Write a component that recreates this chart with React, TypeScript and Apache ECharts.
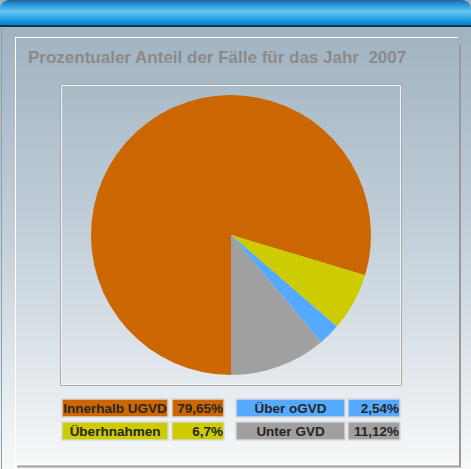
import React, { useEffect, useRef } from "react";
import * as echarts from "echarts";

const titleText = "Prozentualer Anteil der Fälle für das Jahr  2007";
const categories = ["Innerhalb UGVD", "Überhnahmen", "Über oGVD", "Unter GVD"];
const values = [79.65, 6.7, 2.54, 11.12];
const colors = ["#CC6600", "#CCCC00", "#55AAFF", "#A0A0A0"];

const W = 471;
const H = 469;

function fmt(v: number): string {
  return String(v).replace(".", ",") + "%";
}

export default function App() {
  const ref = useRef<HTMLDivElement>(null);
  useEffect(() => {
    if (!ref.current) return;
    const chart = echarts.init(ref.current, undefined, { renderer: "svg" });

    const bgGrad = new echarts.graphic.LinearGradient(0, 0, 0, 1, [
      { offset: 0, color: "#9bafbe" },
      { offset: 0.5, color: "#c3cfd9" },
      { offset: 1, color: "#f7f9fa" },
    ]);
    const headGrad = new echarts.graphic.LinearGradient(0, 0, 0, 1, [
      { offset: 0, color: "#2a5f8c" },
      { offset: 0.1, color: "#1a86cc" },
      { offset: 0.45, color: "#66c4f2" },
      { offset: 0.85, color: "#0e8fd6" },
      { offset: 1, color: "#0b7cc0" },
    ]);

    const graphics: any[] = [
      { type: "rect", z: -10, silent: true, shape: { x: 0, y: 0, width: W, height: H }, style: { fill: bgGrad } },
      { type: "rect", z: -9, silent: true, shape: { x: 0, y: 0, width: W, height: 26, r: [9, 9, 0, 0] }, style: { fill: headGrad } },
      { type: "line", z: -9, silent: true, shape: { x1: 0, y1: 26, x2: W, y2: 26 }, style: { stroke: "#163447", lineWidth: 2 } },
      { type: "line", z: -9, silent: true, shape: { x1: 1.5, y1: 28, x2: 1.5, y2: H }, style: { stroke: "#8e9ea9", lineWidth: 1 } },
      // panel edges
      { type: "line", z: -8, silent: true, shape: { x1: 15, y1: 37.5, x2: 458, y2: 37.5 }, style: { stroke: "#ffffff", lineWidth: 1 } },
      { type: "line", z: -8, silent: true, shape: { x1: 15.5, y1: 37, x2: 15.5, y2: 466 }, style: { stroke: "#ffffff", lineWidth: 1 } },
      { type: "line", z: -8, silent: true, shape: { x1: 460, y1: 45, x2: 460, y2: 467 }, style: { stroke: "#9a9a9a", lineWidth: 2 } },
      { type: "line", z: -8, silent: true, shape: { x1: 17, y1: 466.5, x2: 461, y2: 466.5 }, style: { stroke: "#a0a0a0", lineWidth: 2 } },
      // plot box
      { type: "rect", z: -7, silent: true, shape: { x: 60.5, y: 84.5, width: 341, height: 301 }, style: { fill: "none", stroke: "#a8a8a8", lineWidth: 1 } },
      { type: "rect", z: -7, silent: true, shape: { x: 61.5, y: 85.5, width: 339, height: 299 }, style: { fill: "none", stroke: "#f4f4f4", lineWidth: 1 } },
      {
        type: "text", silent: true, x: 28, y: 57,
        style: { text: titleText, fill: "#8a8a8a", font: "bold 17px 'Liberation Sans', Arial, sans-serif", textVerticalAlign: "middle" },
      },
    ];

    const colX = [[62, 106, 172, 52], [236, 109, 348, 52]];
    const rowY = [399, 422];
    const rowH = 18;
    categories.forEach((name, i) => {
      const col = Math.floor(i / 2);
      const row = i % 2;
      const [lx, lw, vx, vw] = colX[col];
      const y = rowY[row];
      const cellStyle = { fill: colors[i], stroke: "#d8d8d8", lineWidth: 1.5 };
      graphics.push(
        { type: "rect", silent: true, shape: { x: lx, y, width: lw, height: rowH }, style: cellStyle },
        { type: "rect", silent: true, shape: { x: vx, y, width: vw, height: rowH }, style: cellStyle },
        {
          type: "text", silent: true, x: lx + lw / 2, y: y + rowH / 2 + 0.5,
          style: { text: name, fill: "#262626", font: "bold 13.5px 'Liberation Sans', Arial, sans-serif", align: "center", verticalAlign: "middle" },
        },
        {
          type: "text", silent: true, x: vx + vw - 1, y: y + rowH / 2 + 0.5,
          style: { text: fmt(values[i]), fill: "#262626", font: "bold 13.5px 'Liberation Sans', Arial, sans-serif", align: "right", verticalAlign: "middle" },
        }
      );
    });

    chart.setOption({
      animation: false,
      graphic: graphics,
      series: [
        {
          type: "pie",
          center: [231, 235],
          radius: 140,
          startAngle: -90,
          clockwise: true,
          silent: true,
          label: { show: false },
          labelLine: { show: false },
          itemStyle: { borderWidth: 0 },
          data: categories.map((c, i) => ({ name: c, value: values[i], itemStyle: { color: colors[i] } })),
        },
      ],
    });
    return () => chart.dispose();
  }, []);
  return <div ref={ref} style={{ position: "absolute", left: 0, top: 0, width: W, height: H }} />;
}
